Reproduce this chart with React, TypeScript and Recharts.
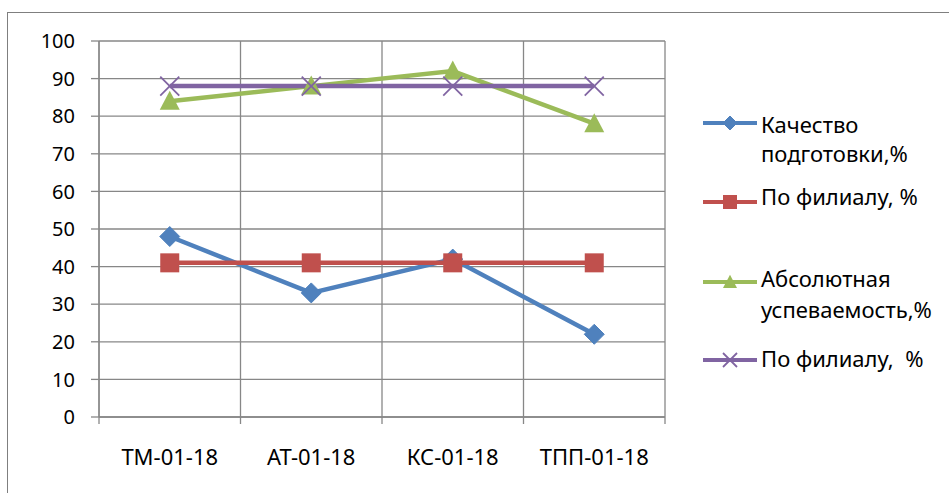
import React from 'react';
import { LineChart, Line, XAxis, YAxis, CartesianGrid } from 'recharts';

const categories = ['ТМ-01-18', 'АТ-01-18', 'КС-01-18', 'ТПП-01-18'];
const qualityValues = [48, 33, 42, 22];
const branchQualityValues = [41, 41, 41, 41];
const successValues = [84, 88, 92, 78];
const branchSuccessValues = [88, 88, 88, 88];
const yTicks = [0, 10, 20, 30, 40, 50, 60, 70, 80, 90, 100];

const legendLabels = [
  ['Качество', 'подготовки,%'],
  ['По филиалу, %'],
  ['Абсолютная', 'успеваемость,%'],
  ['По филиалу,  %'],
];

const data = categories.map((c, i) => ({
  category: c,
  quality: qualityValues[i],
  branchQuality: branchQualityValues[i],
  success: successValues[i],
  branchSuccess: branchSuccessValues[i],
}));

const FONT = '"Noto Sans", "Open Sans", sans-serif';
const FS_Y = 20;
const FS = 22;
const GRID = '#878787';
const BLUE = '#4F81BD';
const RED = '#C0504D';
const GREEN = '#9BBB59';
const PURPLE = '#8064A2';

type Shape = 'diamond' | 'square' | 'triangle' | 'x';

function marker(shape: Shape, color: string, cx: number, cy: number, s: number, key?: any) {
  if (shape === 'diamond') {
    return (
      <polygon key={key} points={`${cx},${cy - s} ${cx + s},${cy} ${cx},${cy + s} ${cx - s},${cy}`} fill={color} stroke={color} strokeWidth={1} />
    );
  }
  if (shape === 'square') {
    return <rect key={key} x={cx - s} y={cy - s} width={2 * s} height={2 * s} fill={color} />;
  }
  if (shape === 'triangle') {
    return (
      <polygon key={key} points={`${cx},${cy - s * 1.05} ${cx + s},${cy + s * 0.85} ${cx - s},${cy + s * 0.85}`} fill={color} />
    );
  }
  return (
    <g key={key} stroke={color} strokeWidth={1.8}>
      <line x1={cx - s} y1={cy - s} x2={cx + s} y2={cy + s} />
      <line x1={cx - s} y1={cy + s} x2={cx + s} y2={cy - s} />
    </g>
  );
}

const makeDot = (shape: Shape, color: string, s: number) => (props: any) => {
  const { cx, cy, index } = props;
  if (cx == null || cy == null) return <g key={index} />;
  return marker(shape, color, cx, cy, s, index);
};

const series: { key: string; color: string; shape: Shape; size: number }[] = [
  { key: 'quality', color: BLUE, shape: 'diamond', size: 10 },
  { key: 'branchQuality', color: RED, shape: 'square', size: 9.5 },
  { key: 'success', color: GREEN, shape: 'triangle', size: 10 },
  { key: 'branchSuccess', color: PURPLE, shape: 'x', size: 9.5 },
];

const legendMarkerY = [123, 202, 282, 360];
const legendBaselines = [[133, 162], [205], [287, 318], [367]];

const CategoryTick = (props: any) => {
  const { x, y, payload, index, width, visibleTicksCount } = props;
  const band = width / visibleTicksCount;
  return (
    <g>
      <line x1={x - band / 2} x2={x - band / 2} y1={y} y2={y + 7} stroke={GRID} strokeWidth={1.3} />
      {index === visibleTicksCount - 1 && (
        <line x1={x + band / 2} x2={x + band / 2} y1={y} y2={y + 7} stroke={GRID} strokeWidth={1.3} />
      )}
      <text x={x} y={y + 48} textAnchor="middle" fontFamily={FONT} fontSize={FS} fill="#000">
        {payload.value}
      </text>
    </g>
  );
};

export default function App() {
  return (
    <div style={{ position: 'absolute', left: 0, top: 0, width: 949, height: 493, overflow: 'hidden', background: '#fff' }}>
      <div style={{ position: 'absolute', left: 7, top: 12, width: 1000, height: 600, border: '1px solid #7f7f7f' }} />
      <div style={{ position: 'absolute', left: 0, top: 0 }}>
        <LineChart width={949} height={493} data={data} margin={{ top: 41, right: 284, bottom: 26, left: 39 }}>
          <CartesianGrid
            stroke={GRID}
            strokeWidth={1.3}
            verticalCoordinatesGenerator={({ offset }: any) =>
              [0, 1, 2, 3, 4].map((i) => offset.left + (i * offset.width) / 4)
            }
          />
          <XAxis
            dataKey="category"
            type="category"
            scale="band"
            height={50}
            tickLine={false}
            tickSize={0}
            tickMargin={0}
            axisLine={{ stroke: GRID, strokeWidth: 1.3 }}
            tick={(p: any) => <CategoryTick {...p} />}
            interval={0}
          />
          <YAxis
            domain={[0, 100]}
            ticks={yTicks}
            width={60}
            tickSize={8}
            tickMargin={16}
            interval={0}
            axisLine={{ stroke: GRID, strokeWidth: 1.3 }}
            tickLine={{ stroke: GRID, strokeWidth: 1.3 }}
            tick={{ fontFamily: FONT, fontSize: FS_Y, fill: '#000' }}
          />
          {series.map((s) => (
            <Line
              key={s.key}
              dataKey={s.key}
              stroke={s.color}
              strokeWidth={4.5}
              type="linear"
              dot={makeDot(s.shape, s.color, s.size)}
              activeDot={false}
              isAnimationActive={false}
            />
          ))}
        </LineChart>
      </div>
      <svg width={949} height={493} style={{ position: 'absolute', left: 0, top: 0, pointerEvents: 'none' }}>
        {series.map((s, i) => (
          <g key={s.key}>
            <line x1={703} x2={757} y1={legendMarkerY[i]} y2={legendMarkerY[i]} stroke={s.color} strokeWidth={4} />
            {marker(s.shape, s.color, 730, legendMarkerY[i], 7)}
            {legendLabels[i].map((t, j) => (
              <text
                key={j}
                x={761}
                y={legendBaselines[i][j]}
                fontFamily={FONT}
                fontSize={FS}
                fill="#000"
                style={{ whiteSpace: 'pre' }}
              >
                {t}
              </text>
            ))}
          </g>
        ))}
      </svg>
    </div>
  );
}
